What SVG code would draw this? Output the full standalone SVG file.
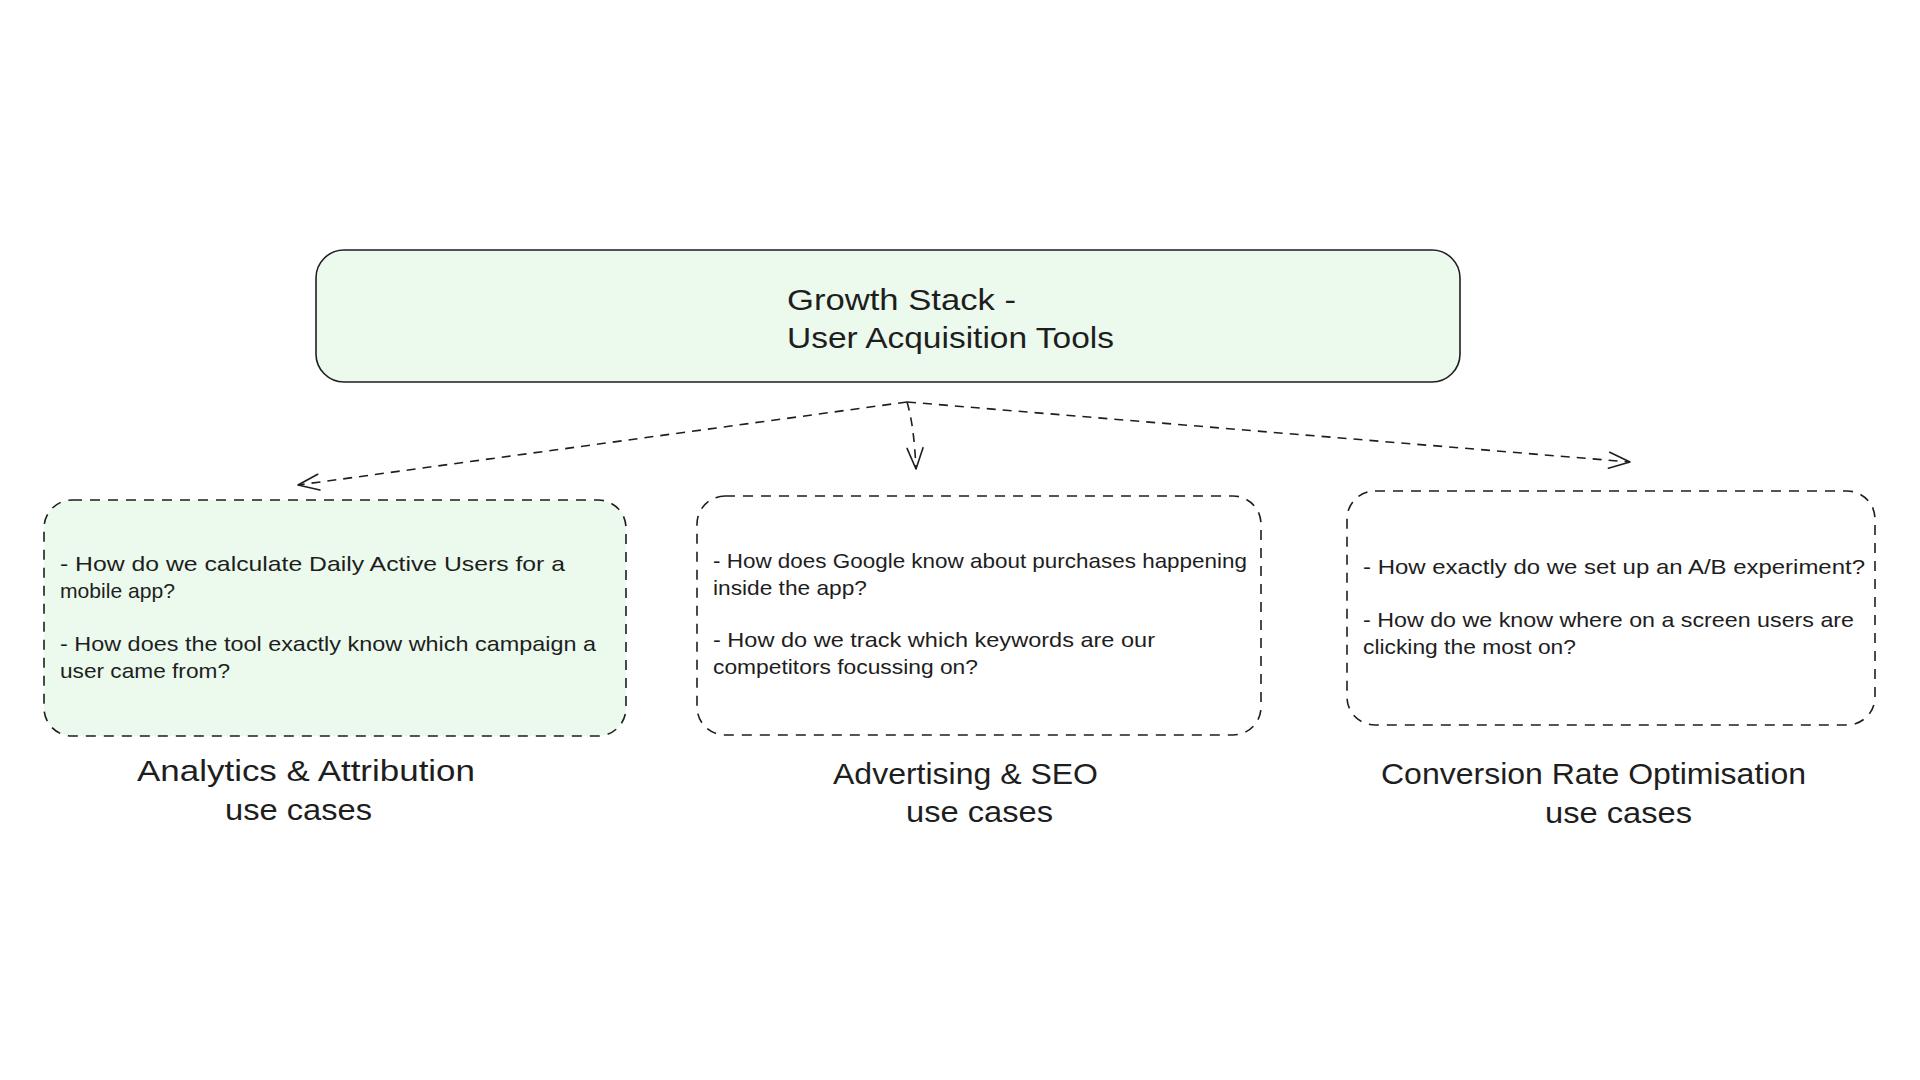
<svg xmlns="http://www.w3.org/2000/svg" width="1920" height="1080" viewBox="0 0 1920 1080">
  <defs>
    <style>
      .txt { font-family: "Liberation Sans", "Open Sans", sans-serif; fill: #1e1e1e; }
      .body { font-size: 21px; }
      .title { font-size: 29px; }
      .label { font-size: 29px; }
      .solidbox { fill: #ebfaed; stroke: #1e1e1e; stroke-width: 1.6; }
      .dashbox { stroke: #1e1e1e; stroke-width: 1.6; stroke-dasharray: 10 8; }
      .green { fill: #ebfaed; }
      .white { fill: #ffffff; }
      .conn { fill: none; stroke: #1e1e1e; stroke-width: 1.6; stroke-dasharray: 9 7; }
    </style>
    <marker id="arrow" markerUnits="userSpaceOnUse" viewBox="-24 -12 26 24" markerWidth="26" markerHeight="24" refX="0" refY="0" orient="auto">
      <path d="M -21 -8 L 0 0 L -21 8" fill="none" stroke="#1e1e1e" stroke-width="1.6" stroke-dasharray="none" stroke-linecap="round" stroke-linejoin="round"/>
    </marker>
  </defs>
  <rect x="0" y="0" width="1920" height="1080" fill="#ffffff"/>

  <g id="connectors">
    <path class="conn" d="M 907 402 L 298 485" marker-end="url(#arrow)"/>
    <path class="conn" d="M 907 402 Q 914 425 916 469" marker-end="url(#arrow)"/>
    <path class="conn" d="M 907 402 L 1630 462" marker-end="url(#arrow)"/>
  </g>

  <g id="node-title">
    <rect class="solidbox" x="316" y="250" width="1144" height="132" rx="28" ry="28"/>
    <text class="txt title" x="787" y="310" textLength="229" lengthAdjust="spacingAndGlyphs">Growth Stack -</text>
    <text class="txt title" x="787" y="348" textLength="327" lengthAdjust="spacingAndGlyphs">User Acquisition Tools</text>
  </g>

  <g id="node-analytics">
    <rect class="dashbox green" x="44" y="500" width="582" height="236" rx="28" ry="28"/>
    <text class="txt body" x="60" y="571" textLength="505" lengthAdjust="spacingAndGlyphs">- How do we calculate Daily Active Users for a</text>
    <text class="txt body" x="60" y="598" textLength="115" lengthAdjust="spacingAndGlyphs">mobile app?</text>
    <text class="txt body" x="60" y="651" textLength="536" lengthAdjust="spacingAndGlyphs">- How does the tool exactly know which campaign a</text>
    <text class="txt body" x="60" y="678" textLength="170" lengthAdjust="spacingAndGlyphs">user came from?</text>
  </g>
  <g id="label-analytics">
    <text class="txt label" x="137" y="781" textLength="338" lengthAdjust="spacingAndGlyphs">Analytics &amp; Attribution</text>
    <text class="txt label" x="225" y="820" textLength="147" lengthAdjust="spacingAndGlyphs">use cases</text>
  </g>

  <g id="node-advertising">
    <rect class="dashbox white" x="697" y="496" width="564" height="239" rx="28" ry="28"/>
    <text class="txt body" x="713" y="568" textLength="534" lengthAdjust="spacingAndGlyphs">- How does Google know about purchases happening</text>
    <text class="txt body" x="713" y="595" textLength="154" lengthAdjust="spacingAndGlyphs">inside the app?</text>
    <text class="txt body" x="713" y="647" textLength="442" lengthAdjust="spacingAndGlyphs">- How do we track which keywords are our</text>
    <text class="txt body" x="713" y="674" textLength="265" lengthAdjust="spacingAndGlyphs">competitors focussing on?</text>
  </g>
  <g id="label-advertising">
    <text class="txt label" x="833" y="784" textLength="265" lengthAdjust="spacingAndGlyphs">Advertising &amp; SEO</text>
    <text class="txt label" x="906" y="822" textLength="147" lengthAdjust="spacingAndGlyphs">use cases</text>
  </g>

  <g id="node-cro">
    <rect class="dashbox white" x="1347" y="491" width="528" height="234" rx="28" ry="28"/>
    <text class="txt body" x="1363" y="574" textLength="502" lengthAdjust="spacingAndGlyphs">- How exactly do we set up an A/B experiment?</text>
    <text class="txt body" x="1363" y="627" textLength="491" lengthAdjust="spacingAndGlyphs">- How do we know where on a screen users are</text>
    <text class="txt body" x="1363" y="654" textLength="213" lengthAdjust="spacingAndGlyphs">clicking the most on?</text>
  </g>
  <g id="label-cro">
    <text class="txt label" x="1381" y="784" textLength="425" lengthAdjust="spacingAndGlyphs">Conversion Rate Optimisation</text>
    <text class="txt label" x="1545" y="823" textLength="147" lengthAdjust="spacingAndGlyphs">use cases</text>
  </g>
</svg>
